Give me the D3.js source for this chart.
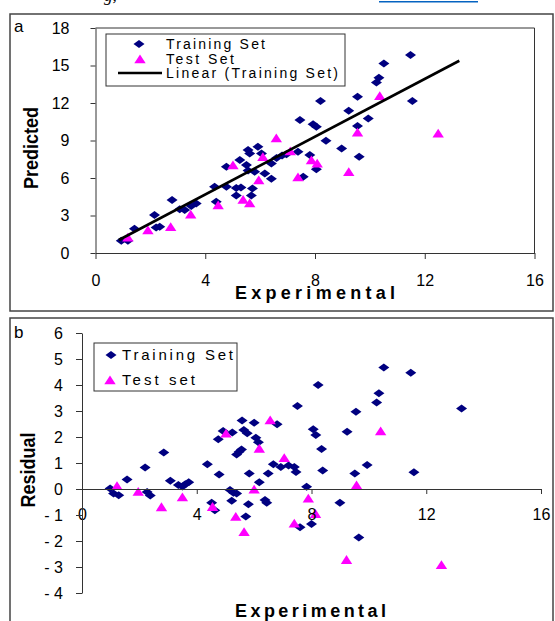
<!DOCTYPE html>
<html lang="en">
<head>
    <meta http-equiv="Content-Type" content="text/html; charset=UTF-8">
    <title>Predicted vs Experimental</title>
    <script src="https://d3js.org/d3.v7.min.js"></script>
    <style>
        body { margin: 0; background: #fff; }
        svg text { font-family: "Liberation Sans", Arial, sans-serif; }
    </style>
</head>
<body>
<svg id="chart" width="555" height="621"></svg>

<script>

// ---------------- data ----------------
var xTicks = [0, 4, 8, 12, 16];
var yTicksA = [0, 3, 6, 9, 12, 15, 18];
var yTicksB = [-4, -3, -2, -1, 0, 1, 2, 3, 4, 5, 6];

// panel a : [experimental, predicted]
var trainA = [
    [0.94, 0.99], [1.18, 0.99], [1.42, 1.95], [2.15, 3.04], [2.21, 2.05], [2.34, 2.1],
    [2.79, 4.24], [3.07, 3.5], [3.25, 3.44], [3.49, 3.76], [3.67, 3.97], [4.34, 5.3],
    [4.4, 4.1], [4.77, 5.3], [4.77, 6.9], [5.13, 5.2], [5.3, 5.25], [5.13, 4.6],
    [5.26, 7.44], [5.5, 7.04], [5.56, 6.6], [5.8, 6.5], [5.56, 8.24], [5.62, 7.97],
    [5.92, 8.5], [6.05, 7.97], [5.72, 5.17], [5.68, 4.6], [6.17, 6.37], [6.41, 5.95],
    [6.41, 7.17], [6.6, 7.6], [6.8, 7.8], [6.96, 7.9], [7.38, 8.1], [7.45, 10.64],
    [7.57, 6.1], [7.81, 7.84], [7.93, 10.3], [8.05, 10.1], [8.05, 6.7], [8.2, 12.16],
    [8.4, 8.98], [8.97, 8.37], [9.23, 11.38], [9.55, 12.5], [9.55, 10.16], [9.61, 7.7],
    [9.94, 10.77], [10.24, 13.65], [10.33, 14.03], [10.51, 15.17], [11.48, 15.84], [11.55, 12.16]
];
var testA = [
    [1.18, 1.25], [1.91, 1.84], [2.74, 2.1], [3.47, 3.1], [4.47, 3.84], [5.38, 4.28],
    [5.62, 4.0], [5.01, 7.04], [5.95, 5.84], [6.1, 7.7], [6.59, 9.2], [7.1, 8.15],
    [7.38, 6.08], [7.87, 7.44], [8.08, 7.17], [9.23, 6.5], [9.55, 9.65], [10.36, 12.58],
    [12.49, 9.57]
];
// linear trend of the training set, two end points
var trendA = [[0.85, 1.04], [13.26, 15.38]];

// panel b : [experimental, residual]
var trainB = [
    [0.98, 0.02], [1.1, -0.17], [1.28, -0.24], [1.57, 0.37], [2.2, 0.83], [2.27, -0.12],
    [2.38, -0.25], [2.85, 1.4], [3.08, 0.32], [3.36, 0.15], [3.5, 0.1], [3.6, 0.18],
    [3.72, 0.26], [4.37, 0.95], [4.52, -0.53], [4.63, -0.82], [4.75, 1.91], [4.78, 0.56],
    [4.92, 2.23], [5.16, -0.04], [5.22, -0.45], [5.24, 2.17], [5.28, -0.14], [5.39, -0.17],
    [5.39, 1.33], [5.48, 1.43], [5.56, 1.52], [5.58, 2.63], [5.64, 2.27], [5.71, -1.06],
    [5.76, 2.14], [5.8, -0.59], [5.83, 0.6], [6.0, 2.55], [6.06, 1.97], [6.15, 1.8],
    [6.18, 0.26], [6.38, -0.42], [6.44, -0.53], [6.49, 0.6], [6.67, 0.95], [6.8, 2.49],
    [6.93, 0.85], [7.2, 0.9], [7.4, 0.85], [7.46, 0.65], [7.51, 3.19], [7.6, -1.47],
    [7.83, 0.09], [8.0, -1.35], [8.06, 2.3], [8.15, 2.08], [8.23, 4.0], [8.35, 1.54],
    [8.39, 0.71], [8.99, -0.53], [9.24, 2.2], [9.51, 0.6], [9.55, 2.97], [9.65, -1.87],
    [9.94, 0.92], [10.27, 3.33], [10.35, 3.68], [10.52, 4.67], [11.46, 4.47], [11.57, 0.64],
    [13.23, 3.1]
];
var testB = [
    [1.22, 0.12], [1.96, -0.1], [2.77, -0.69], [3.5, -0.31], [4.55, -0.68], [5.02, 2.14],
    [5.36, -1.06], [5.65, -1.65], [6.0, -0.01], [6.18, 1.56], [6.56, 2.65], [7.05, 1.2],
    [7.4, -1.32], [7.89, -0.36], [8.14, -0.95], [9.22, -2.72], [9.57, 0.15], [10.41, 2.23],
    [12.53, -2.92]
];

// ---------------- drawing ----------------
var svg = d3.select("#chart");
var NAVY = "#000080", PINK = "#ff00ff", AXIS = "#333";

var diamond = "M0,-4 L5.5,0 L0,4 L-5.5,0Z";
var triangle = "M0,-4.6 L5.7,4.2 L-5.7,4.2Z";

// bits of the page text above the figure, cut off at the top
svg.append("text").attr("x", 104).attr("y", 1)
    .style("font-family", "Liberation Serif, serif").style("font-style", "italic")
    .style("font-size", "17px").text("g,");
svg.append("rect").attr("x", 379).attr("y", 1).attr("width", 99).attr("height", 1.5)
    .attr("fill", "#0563c1");

// panel frames
svg.append("rect").attr("x", 10).attr("y", 14).attr("width", 543).attr("height", 297)
    .attr("fill", "none").attr("stroke", "#444").attr("stroke-width", 1.5);
svg.append("rect").attr("x", 10).attr("y", 318).attr("width", 543).attr("height", 320)
    .attr("fill", "none").attr("stroke", "#444").attr("stroke-width", 1.5);

function points(g, data, x, y, shape, color) {
    g.selectAll(null)
        .data(data)
        .enter()
        .append("path")
        .attr("d", shape)
        .attr("fill", color)
        .attr("transform", function (d) { return "translate(" + x(d[0]) + "," + y(d[1]) + ")"; });
}

function styleAxis(g, fs) {
    g.select(".domain").attr("stroke", AXIS);
    g.selectAll(".tick line").attr("stroke", AXIS);
    g.selectAll(".tick text").attr("fill", "#000").style("font-size", fs)
        .style("font-family", "Liberation Sans, Arial, sans-serif");
}

function spacedText(x, y, str, size, len, bold) {
    return svg.append("text").attr("x", x).attr("y", y)
        .attr("textLength", len).attr("lengthAdjust", "spacing")
        .style("font-size", size + "px")
        .style("font-weight", bold ? "bold" : "normal")
        .text(str);
}

// ===== panel a =====
var xA = d3.scaleLinear().domain([0, 16]).range([95.5, 534.5]);
var yA = d3.scaleLinear().domain([0, 18]).range([253, 28]);
var ga = svg.append("g");

// plot area border (top and right)
ga.append("path")
    .attr("d", "M" + xA(0) + "," + yA(18) + "H" + xA(16) + "V" + yA(0))
    .attr("fill", "none").attr("stroke", AXIS);

points(ga, trainA, xA, yA, diamond, NAVY);
points(ga, testA, xA, yA, triangle, PINK);

ga.append("path")
    .attr("d", d3.line().x(function (d) { return xA(d[0]); }).y(function (d) { return yA(d[1]); })(trendA))
    .attr("stroke", "#000").attr("stroke-width", 2.6).attr("fill", "none");

ga.append("g").attr("transform", "translate(0," + yA(0) + ")")
    .call(d3.axisBottom(xA).tickValues(xTicks).tickSize(6).tickSizeOuter(0).tickPadding(16))
    .call(styleAxis, "16px");
ga.append("g").attr("transform", "translate(" + xA(0) + ",0)")
    .call(d3.axisLeft(yA).tickValues(yTicksA).tickSize(5).tickSizeOuter(0).tickPadding(21))
    .call(styleAxis, "16px");

svg.append("text").attr("x", 14).attr("y", 32).style("font-size", "17px").text("a");
spacedText(235, 299, "Experimental", 18, 160, true);
svg.append("text")
    .attr("transform", "translate(38,148) scale(1.15,1) rotate(-90)")
    .attr("text-anchor", "middle")
    .style("font-size", "18px").style("font-weight", "bold")
    .text("Predicted");

// legend a
var la = svg.append("g");
la.append("rect").attr("x", 106).attr("y", 34).attr("width", 239).attr("height", 52)
    .attr("fill", "#fff").attr("stroke", AXIS);
la.append("path").attr("d", diamond).attr("fill", NAVY).attr("transform", "translate(139,44)");
la.append("path").attr("d", triangle).attr("fill", PINK).attr("transform", "translate(140,59)");
la.append("line").attr("x1", 118).attr("x2", 162).attr("y1", 73).attr("y2", 73)
    .attr("stroke", "#000").attr("stroke-width", 2.6);
spacedText(166, 49, "Training Set", 14, 99);
spacedText(166, 64, "Test Set", 14, 68);
spacedText(166, 78, "Linear (Training Set)", 14, 172);

// ===== panel b =====
var xB = d3.scaleLinear().domain([0, 16]).range([82, 541]);
var yB = d3.scaleLinear().domain([-4, 6]).range([593, 333]);
var gb = svg.append("g");

points(gb, trainB, xB, yB, diamond, NAVY);
points(gb, testB, xB, yB, triangle, PINK);

gb.append("g").attr("transform", "translate(0," + yB(0) + ")")
    .call(d3.axisBottom(xB).tickValues(xTicks).tickSize(5).tickSizeOuter(0).tickPadding(15))
    .call(styleAxis, "16px");
gb.append("g").attr("transform", "translate(" + xB(0) + ",0)")
    .call(d3.axisLeft(yB).tickValues(yTicksB).tickSize(6).tickSizeOuter(0).tickPadding(13)
        .tickFormat(function (d) { return d < 0 ? "- " + (-d) : d; }))
    .call(styleAxis, "16px");

svg.append("text").attr("x", 14).attr("y", 338).style("font-size", "17px").text("b");
spacedText(235, 617, "Experimental", 18, 151, true);
svg.append("text")
    .attr("transform", "translate(35,470) scale(1.15,1) rotate(-90)")
    .attr("text-anchor", "middle")
    .style("font-size", "18px").style("font-weight", "bold")
    .text("Residual");

// legend b
var lb = svg.append("g");
lb.append("rect").attr("x", 94).attr("y", 343).attr("width", 143).attr("height", 48)
    .attr("fill", "#fff").attr("stroke", AXIS);
lb.append("path").attr("d", diamond).attr("fill", NAVY).attr("transform", "translate(111,355)");
lb.append("path").attr("d", triangle).attr("fill", PINK).attr("transform", "translate(110,380)");
spacedText(122, 360, "Training Set", 15, 111);
spacedText(122, 385, "Test set", 15, 73);

</script>
</body>
</html>
